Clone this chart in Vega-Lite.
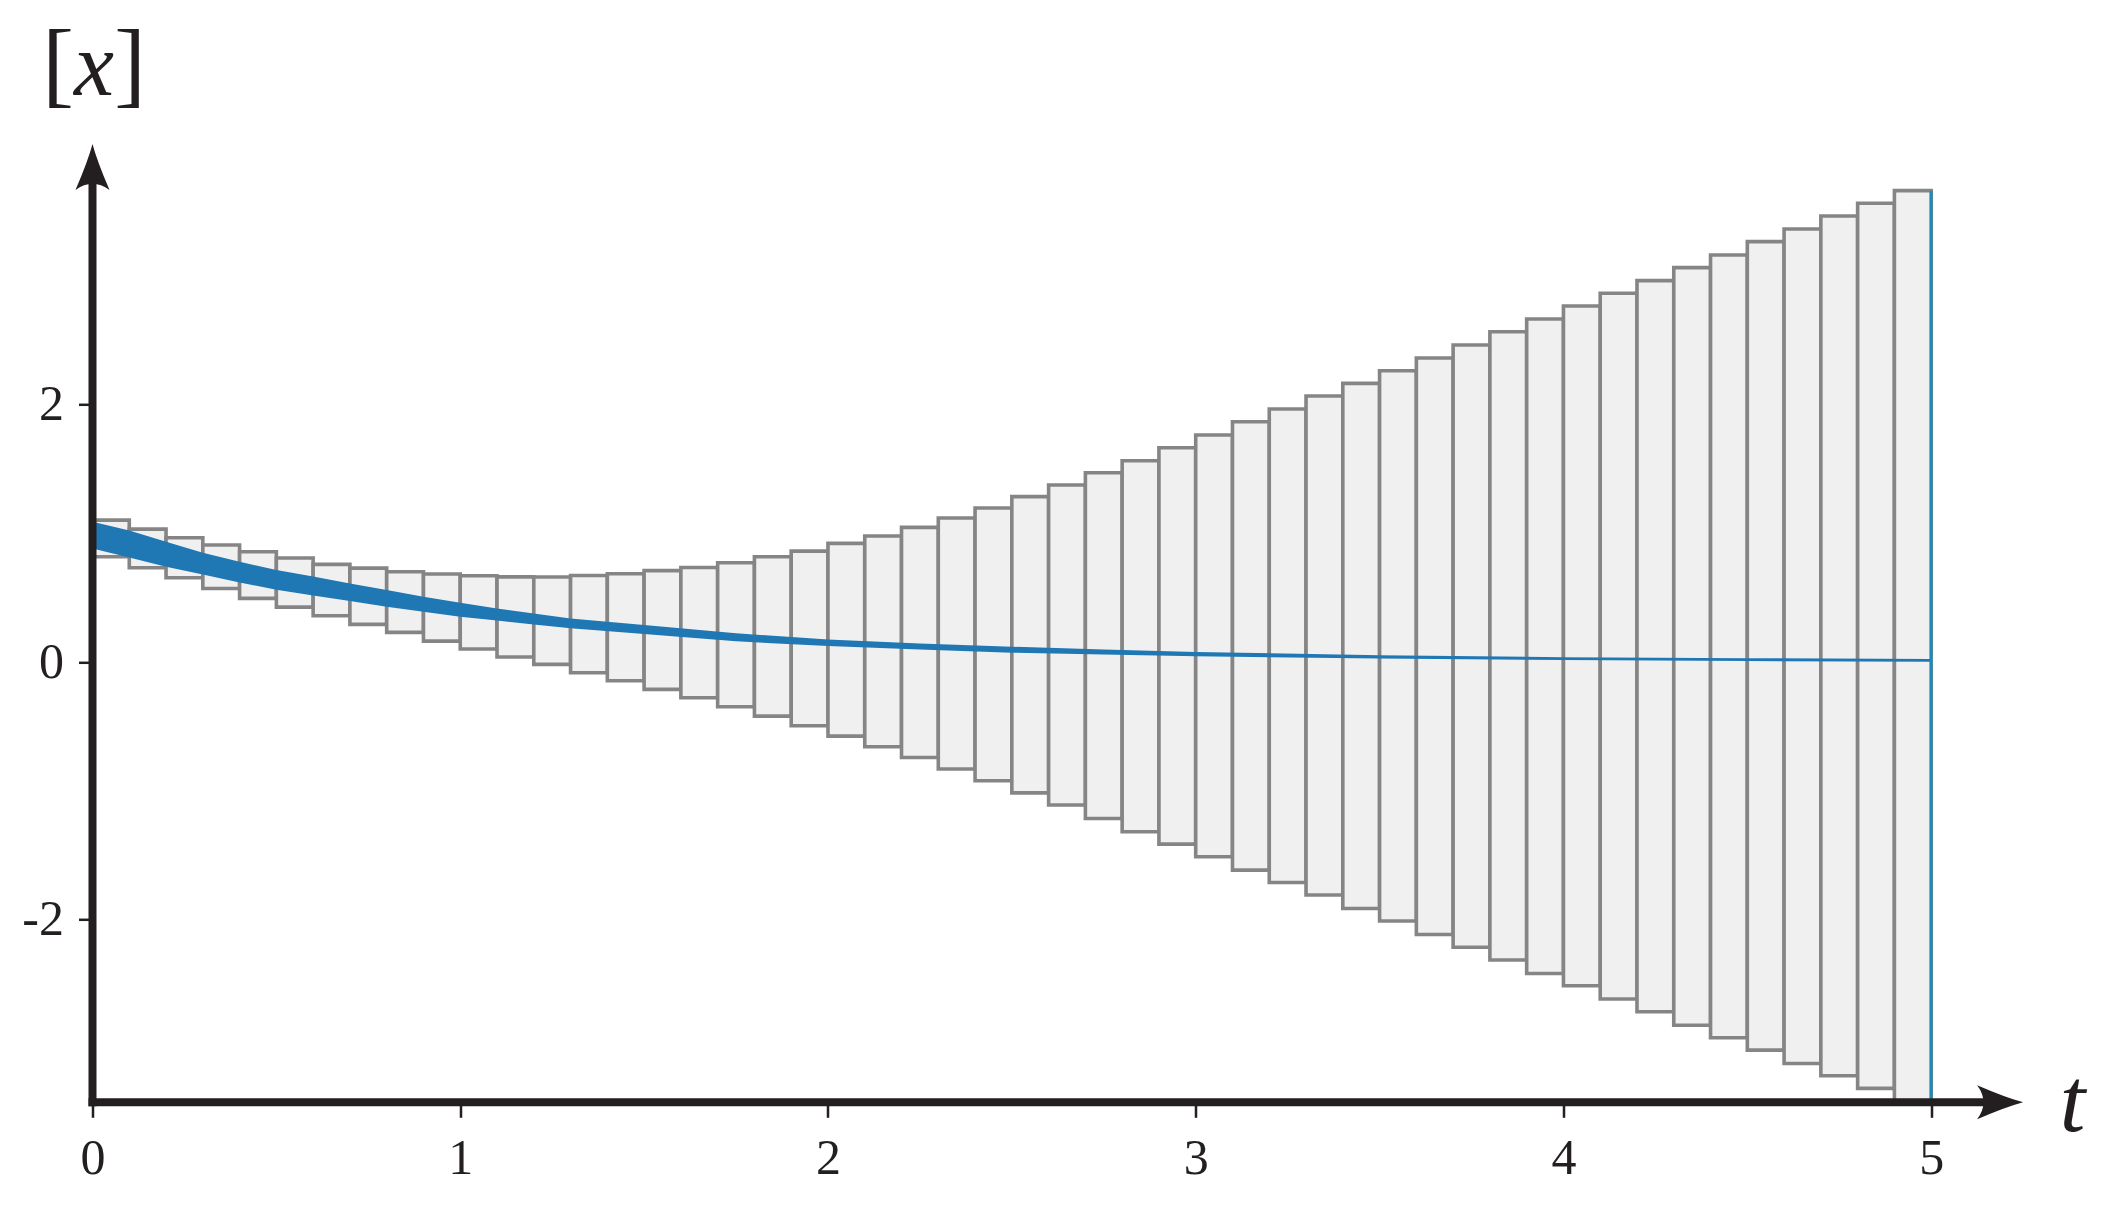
{
  "$schema": "https://vega.github.io/schema/vega-lite/v6.json",
  "width": 1949,
  "height": 959,
  "autosize": {"type": "none"},
  "padding": {"left": 92.5, "top": 143.3, "right": 67.5, "bottom": 107.7},
  "background": "white",
  "config": {"view": {"stroke": null}},
  "datasets": {
    "boxes": [
      {"t0": 0.0, "t1": 0.1, "lo": 0.818, "hi": 1.103},
      {"t0": 0.1, "t1": 0.2, "lo": 0.733, "hi": 1.033},
      {"t0": 0.2, "t1": 0.3, "lo": 0.655, "hi": 0.966},
      {"t0": 0.3, "t1": 0.4, "lo": 0.572, "hi": 0.909},
      {"t0": 0.4, "t1": 0.5, "lo": 0.495, "hi": 0.857},
      {"t0": 0.5, "t1": 0.6, "lo": 0.427, "hi": 0.808},
      {"t0": 0.6, "t1": 0.7, "lo": 0.360, "hi": 0.759},
      {"t0": 0.7, "t1": 0.8, "lo": 0.293, "hi": 0.730},
      {"t0": 0.8, "t1": 0.9, "lo": 0.231, "hi": 0.702},
      {"t0": 0.9, "t1": 1.0, "lo": 0.163, "hi": 0.684},
      {"t0": 1.0, "t1": 1.1, "lo": 0.101, "hi": 0.671},
      {"t0": 1.1, "t1": 1.2, "lo": 0.039, "hi": 0.662},
      {"t0": 1.2, "t1": 1.3, "lo": -0.018, "hi": 0.661},
      {"t0": 1.3, "t1": 1.4, "lo": -0.083, "hi": 0.673},
      {"t0": 1.4, "t1": 1.5, "lo": -0.145, "hi": 0.686},
      {"t0": 1.5, "t1": 1.6, "lo": -0.212, "hi": 0.710},
      {"t0": 1.6, "t1": 1.7, "lo": -0.277, "hi": 0.735},
      {"t0": 1.7, "t1": 1.8, "lo": -0.347, "hi": 0.772},
      {"t0": 1.8, "t1": 1.9, "lo": -0.420, "hi": 0.818},
      {"t0": 1.9, "t1": 2.0, "lo": -0.495, "hi": 0.862},
      {"t0": 2.0, "t1": 2.1, "lo": -0.575, "hi": 0.922},
      {"t0": 2.1, "t1": 2.2, "lo": -0.658, "hi": 0.979},
      {"t0": 2.2, "t1": 2.3, "lo": -0.741, "hi": 1.046},
      {"t0": 2.3, "t1": 2.4, "lo": -0.831, "hi": 1.119},
      {"t0": 2.4, "t1": 2.5, "lo": -0.922, "hi": 1.197},
      {"t0": 2.5, "t1": 2.6, "lo": -1.016, "hi": 1.285},
      {"t0": 2.6, "t1": 2.7, "lo": -1.111, "hi": 1.375},
      {"t0": 2.7, "t1": 2.8, "lo": -1.215, "hi": 1.471},
      {"t0": 2.8, "t1": 2.9, "lo": -1.318, "hi": 1.564},
      {"t0": 2.9, "t1": 3.0, "lo": -1.414, "hi": 1.665},
      {"t0": 3.0, "t1": 3.1, "lo": -1.513, "hi": 1.764},
      {"t0": 3.1, "t1": 3.2, "lo": -1.616, "hi": 1.867},
      {"t0": 3.2, "t1": 3.3, "lo": -1.712, "hi": 1.966},
      {"t0": 3.3, "t1": 3.4, "lo": -1.810, "hi": 2.067},
      {"t0": 3.4, "t1": 3.5, "lo": -1.914, "hi": 2.165},
      {"t0": 3.5, "t1": 3.6, "lo": -2.012, "hi": 2.263},
      {"t0": 3.6, "t1": 3.7, "lo": -2.116, "hi": 2.362},
      {"t0": 3.7, "t1": 3.8, "lo": -2.215, "hi": 2.463},
      {"t0": 3.8, "t1": 3.9, "lo": -2.315, "hi": 2.566},
      {"t0": 3.9, "t1": 4.0, "lo": -2.419, "hi": 2.665},
      {"t0": 4.0, "t1": 4.1, "lo": -2.515, "hi": 2.766},
      {"t0": 4.1, "t1": 4.2, "lo": -2.618, "hi": 2.865},
      {"t0": 4.2, "t1": 4.3, "lo": -2.717, "hi": 2.963},
      {"t0": 4.3, "t1": 4.4, "lo": -2.821, "hi": 3.064},
      {"t0": 4.4, "t1": 4.5, "lo": -2.919, "hi": 3.162},
      {"t0": 4.5, "t1": 4.6, "lo": -3.015, "hi": 3.266},
      {"t0": 4.6, "t1": 4.7, "lo": -3.118, "hi": 3.364},
      {"t0": 4.7, "t1": 4.8, "lo": -3.214, "hi": 3.465},
      {"t0": 4.8, "t1": 4.9, "lo": -3.312, "hi": 3.564},
      {"t0": 4.9, "t1": 5.0, "lo": -3.41, "hi": 3.662}
    ],
    "band": [
      {"t": 0.0, "lo": 0.883, "hi": 1.090},
      {"t": 0.1, "lo": 0.813, "hi": 1.023},
      {"t": 0.2, "lo": 0.741, "hi": 0.935},
      {"t": 0.3, "lo": 0.681, "hi": 0.850},
      {"t": 0.4, "lo": 0.619, "hi": 0.779},
      {"t": 0.5, "lo": 0.562, "hi": 0.715},
      {"t": 0.6, "lo": 0.518, "hi": 0.665},
      {"t": 0.7, "lo": 0.474, "hi": 0.611},
      {"t": 0.8, "lo": 0.430, "hi": 0.559},
      {"t": 0.9, "lo": 0.391, "hi": 0.508},
      {"t": 1.0, "lo": 0.352, "hi": 0.461},
      {"t": 1.1, "lo": 0.322, "hi": 0.417},
      {"t": 1.2, "lo": 0.291, "hi": 0.378},
      {"t": 1.3, "lo": 0.262, "hi": 0.339},
      {"t": 1.5, "lo": 0.218, "hi": 0.288},
      {"t": 1.75, "lo": 0.161, "hi": 0.223},
      {"t": 2.0, "lo": 0.124, "hi": 0.176},
      {"t": 2.25, "lo": 0.098, "hi": 0.145},
      {"t": 2.5, "lo": 0.073, "hi": 0.119},
      {"t": 2.75, "lo": 0.058, "hi": 0.097},
      {"t": 3.0, "lo": 0.045, "hi": 0.078},
      {"t": 3.5, "lo": 0.027, "hi": 0.053},
      {"t": 4.0, "lo": 0.016, "hi": 0.038},
      {"t": 4.5, "lo": 0.008, "hi": 0.030},
      {"t": 5.0, "lo": 0.003, "hi": 0.024}
    ]
  },
  "layer": [
    {
      "data": {"name": "boxes"},
      "mark": {"type": "rect", "fill": "#f0f0f0", "stroke": "#858585", "strokeWidth": 3.6},
      "encoding": {
        "x": {
          "field": "t0", "type": "quantitative",
          "scale": {"domain": [0, 5.3], "nice": false, "zero": false},
          "axis": {
            "values": [0, 1, 2, 3, 4, 5], "format": "d", "domain": false, "grid": false,
            "tickColor": "#231f20", "tickSize": 15, "tickWidth": 2.5,
            "labelFont": "Liberation Serif", "labelFontSize": 50, "labelColor": "#231f20",
            "labelPadding": 16, "labelFlush": false, "labelOverlap": false,
            "title": "t", "titleFont": "Liberation Serif", "titleFontStyle": "italic",
            "titleFontWeight": "normal", "titleFontSize": 92, "titleColor": "#231f20",
            "titleX": 1979.5, "titleY": 28, "titleAlign": "center", "titleBaseline": "alphabetic"
          }
        },
        "x2": {"field": "t1"},
        "y": {
          "field": "lo", "type": "quantitative",
          "scale": {"domain": [-3.42, 4.03], "nice": false, "zero": false},
          "axis": {
            "values": [-2, 0, 2], "domain": false, "grid": false,
            "tickColor": "#231f20", "tickSize": 14, "tickWidth": 2.5,
            "labelFont": "Liberation Serif", "labelFontSize": 50, "labelColor": "#231f20",
            "labelPadding": 15, "labelFlush": false, "labelOverlap": false,
            "labelExpr": "datum.value < 0 ? '-' + abs(datum.value) : '' + datum.value",
            "title": null
          }
        },
        "y2": {"field": "hi"}
      }
    },
    {
      "data": {"name": "band"},
      "mark": {"type": "area", "color": "#1f77b4", "opacity": 1},
      "encoding": {
        "x": {"field": "t", "type": "quantitative"},
        "y": {"field": "lo", "type": "quantitative"},
        "y2": {"field": "hi"}
      }
    },
    {
      "data": {"values": [{}]},
      "mark": {"type": "rule", "color": "#1a8bba", "strokeWidth": 2.7},
      "encoding": {
        "x": {"datum": 5},
        "y": {"datum": -3.41},
        "y2": {"datum": 3.662}
      }
    },
    {
      "data": {"values": [{}]},
      "mark": {"type": "rule", "color": "#231f20", "strokeWidth": 8, "strokeCap": "square"},
      "encoding": {
        "x": {"datum": 0},
        "x2": {"datum": 5.19},
        "y": {"datum": -3.42}
      }
    },
    {
      "data": {"values": [{}]},
      "mark": {"type": "rule", "color": "#231f20", "strokeWidth": 8, "strokeCap": "square"},
      "encoding": {
        "x": {"datum": 0},
        "y": {"datum": -3.42},
        "y2": {"datum": 3.85}
      }
    },
    {
      "data": {"values": [{}]},
      "mark": {"type": "point", "filled": true, "color": "#231f20", "opacity": 1, "strokeWidth": 0, "size": 2116,
               "shape": "M1,0 Q0.25,-0.2 -1,-0.74 Q-0.45,0 -1,0.74 Q0.25,0.2 1,0 Z"},
      "encoding": {
        "x": {"datum": 5.1875},
        "y": {"datum": -3.42}
      }
    },
    {
      "data": {"values": [{}]},
      "mark": {"type": "point", "filled": true, "color": "#231f20", "opacity": 1, "strokeWidth": 0, "size": 2116,
               "shape": "M0,-1 Q-0.2,-0.25 -0.74,1 Q0,0.45 0.74,1 Q0.2,-0.25 0,-1 Z"},
      "encoding": {
        "x": {"datum": 0},
        "y": {"datum": 3.846}
      }
    },
    {
      "data": {"values": [{}]},
      "mark": {"type": "text", "text": "[", "font": "Liberation Serif", "fontSize": 95, "color": "#231f20", "align": "left", "baseline": "alphabetic"},
      "encoding": {
        "x": {"datum": -0.1364},
        "y": {"datum": 4.406}
      }
    },
    {
      "data": {"values": [{}]},
      "mark": {"type": "text", "text": "x", "font": "Liberation Serif", "fontStyle": "italic", "fontSize": 90, "color": "#231f20", "align": "center", "baseline": "alphabetic"},
      "encoding": {
        "x": {"datum": 0.0040},
        "y": {"datum": 4.406}
      }
    },
    {
      "data": {"values": [{}]},
      "mark": {"type": "text", "text": "]", "font": "Liberation Serif", "fontSize": 95, "color": "#231f20", "align": "right", "baseline": "alphabetic"},
      "encoding": {
        "x": {"datum": 0.1455},
        "y": {"datum": 4.406}
      }
    }
  ]
}
